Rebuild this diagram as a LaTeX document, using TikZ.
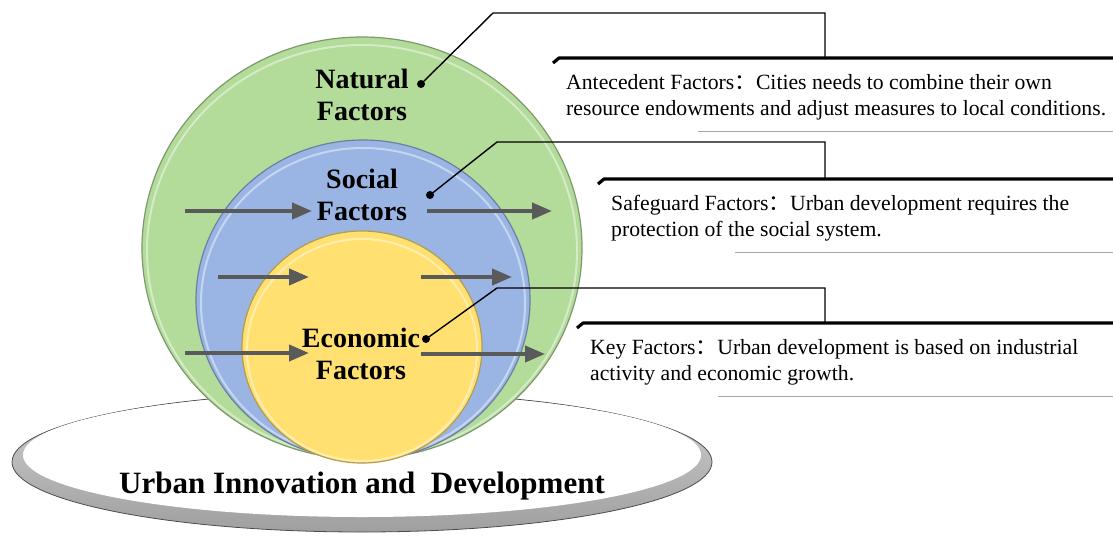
\documentclass[tikz,border=0pt]{standalone}
\usepackage{fontspec}
\setmainfont{Liberation Serif}
\newfontfamily\cjk{Noto Sans CJK SC}
\usetikzlibrary{arrows.meta,shapes.geometric}
\definecolor{natgreen}{HTML}{B3DB9A}
\definecolor{socblue}{HTML}{9AB5E4}
\definecolor{ecoyellow}{HTML}{FFE070}
\definecolor{arrgray}{HTML}{5A5A5A}
\tikzset{
  flowarrow/.style={draw=arrgray, line width=4pt, -{Triangle[length=20pt,width=16pt]}},
  factortext/.style={font=\fontsize{28}{32}\selectfont\bfseries, align=center, inner sep=0pt},
  calltext/.style={font=\fontsize{21.7}{26}\selectfont, align=left, anchor=base west, inner sep=0pt},
  leader/.style={draw=black, line width=1.4pt},
  shelf/.style={draw=black, line width=3.2pt, line join=round},
  underline/.style={draw=gray!70, line width=1pt},
  dotend/.style={circle, fill=black, inner sep=0pt, minimum size=8pt},
}
\begin{document}
\begin{tikzpicture}[x=1pt,y=-1pt]
\useasboundingbox (0,0) rectangle (1113,536);
% base ellipse
\shade[top color=gray!35, bottom color=gray!75] (362,462) ellipse [x radius=350pt, y radius=70pt];
\draw[black!70, line width=0.8pt] (362,462) ellipse [x radius=350pt, y radius=70pt];
\fill[white] (362,455) ellipse [x radius=339pt, y radius=62pt];
% circles
\fill[natgreen] (362,248) ellipse [x radius=220pt, y radius=211pt];
\draw[natgreen!70!black, line width=1.2pt] (362,248) ellipse [x radius=220pt, y radius=211pt];
\draw[white, opacity=0.45, line width=2pt] (362,251) ellipse [x radius=215pt, y radius=206pt];
\fill[socblue] (363,300) ellipse [x radius=167pt, y radius=160pt];
\draw[socblue!70!black, line width=1.2pt] (363,300) ellipse [x radius=167pt, y radius=160pt];
\draw[white, opacity=0.45, line width=2pt] (363,303) ellipse [x radius=162pt, y radius=155pt];
\fill[ecoyellow] (362,347) ellipse [x radius=120pt, y radius=116pt];
\draw[ecoyellow!70!black, line width=1.2pt] (362,347) ellipse [x radius=120pt, y radius=116pt];
\draw[white, opacity=0.45, line width=2pt] (362,350) ellipse [x radius=115pt, y radius=111pt];
% arrows
\coordinate (a1s) at (185,211); \coordinate (a1e) at (312,211);
\coordinate (a2s) at (427,211); \coordinate (a2e) at (552,211);
\coordinate (a3s) at (218,277); \coordinate (a3e) at (309,277);
\coordinate (a4s) at (421,277); \coordinate (a4e) at (512,277);
\coordinate (a5s) at (185,353); \coordinate (a5e) at (309,353);
\coordinate (a6s) at (421,354); \coordinate (a6e) at (545,354);
\draw[flowarrow] (a1s) -- (a1e);
\draw[flowarrow] (a2s) -- (a2e);
\draw[flowarrow] (a3s) -- (a3e);
\draw[flowarrow] (a4s) -- (a4e);
\draw[flowarrow] (a5s) -- (a5e);
\draw[flowarrow] (a6s) -- (a6e);
% factor labels
\node[factortext] (nat) at (362,95) {Natural\\Factors};
\node[factortext] (soc) at (362,195) {Social\\Factors};
\node[factortext] (eco) at (361,354) {Economic\\Factors};
\node[font=\fontsize{31}{34}\selectfont\bfseries, inner sep=0pt] (base) at (362,486) {Urban Innovation and\ \ Development};
% dots
\node[dotend] (d1) at (421,84) {};
\node[dotend] (d2) at (430,195) {};
\node[dotend] (d3) at (426,339) {};
% callout 1
\coordinate (k1a) at (493,13); \coordinate (k1b) at (825,13); \coordinate (k1c) at (825,58);
\draw[leader] (d1.center) -- (k1a) -- (k1b) -- (k1c);
\coordinate (s1a) at (553,63); \coordinate (s1b) at (559,58); \coordinate (s1c) at (1113,58);
\draw[shelf] (s1a) -- (s1b) -- (s1c);
\node[calltext] (t1) at (566,115) {Antecedent Factors{\cjk ：}Cities needs to combine their own\\resource endowments and adjust measures to local conditions.};
\coordinate (u1a) at (698,131); \coordinate (u1b) at (1113,131);
\draw[underline] (u1a) -- (u1b);
% callout 2
\coordinate (k2a) at (497,142); \coordinate (k2b) at (825,142); \coordinate (k2c) at (825,179);
\draw[leader] (d2.center) -- (k2a) -- (k2b) -- (k2c);
\coordinate (s2a) at (598,184); \coordinate (s2b) at (604,179); \coordinate (s2c) at (1113,179);
\draw[shelf] (s2a) -- (s2b) -- (s2c);
\node[calltext] (t2) at (611,236) {Safeguard Factors{\cjk ：}Urban development requires the\\protection of the social system.};
\coordinate (u2a) at (735,252); \coordinate (u2b) at (1113,252);
\draw[underline] (u2a) -- (u2b);
% callout 3
\coordinate (k3a) at (497,288); \coordinate (k3b) at (825,288); \coordinate (k3c) at (825,323);
\draw[leader] (d3.center) -- (k3a) -- (k3b) -- (k3c);
\coordinate (s3a) at (577,328); \coordinate (s3b) at (583,323); \coordinate (s3c) at (1113,323);
\draw[shelf] (s3a) -- (s3b) -- (s3c);
\node[calltext] (t3) at (590,380) {Key Factors{\cjk ：}Urban development is based on industrial\\activity and economic growth.};
\coordinate (u3a) at (718,396); \coordinate (u3b) at (1113,396);
\draw[underline] (u3a) -- (u3b);
\end{tikzpicture}
\end{document}
